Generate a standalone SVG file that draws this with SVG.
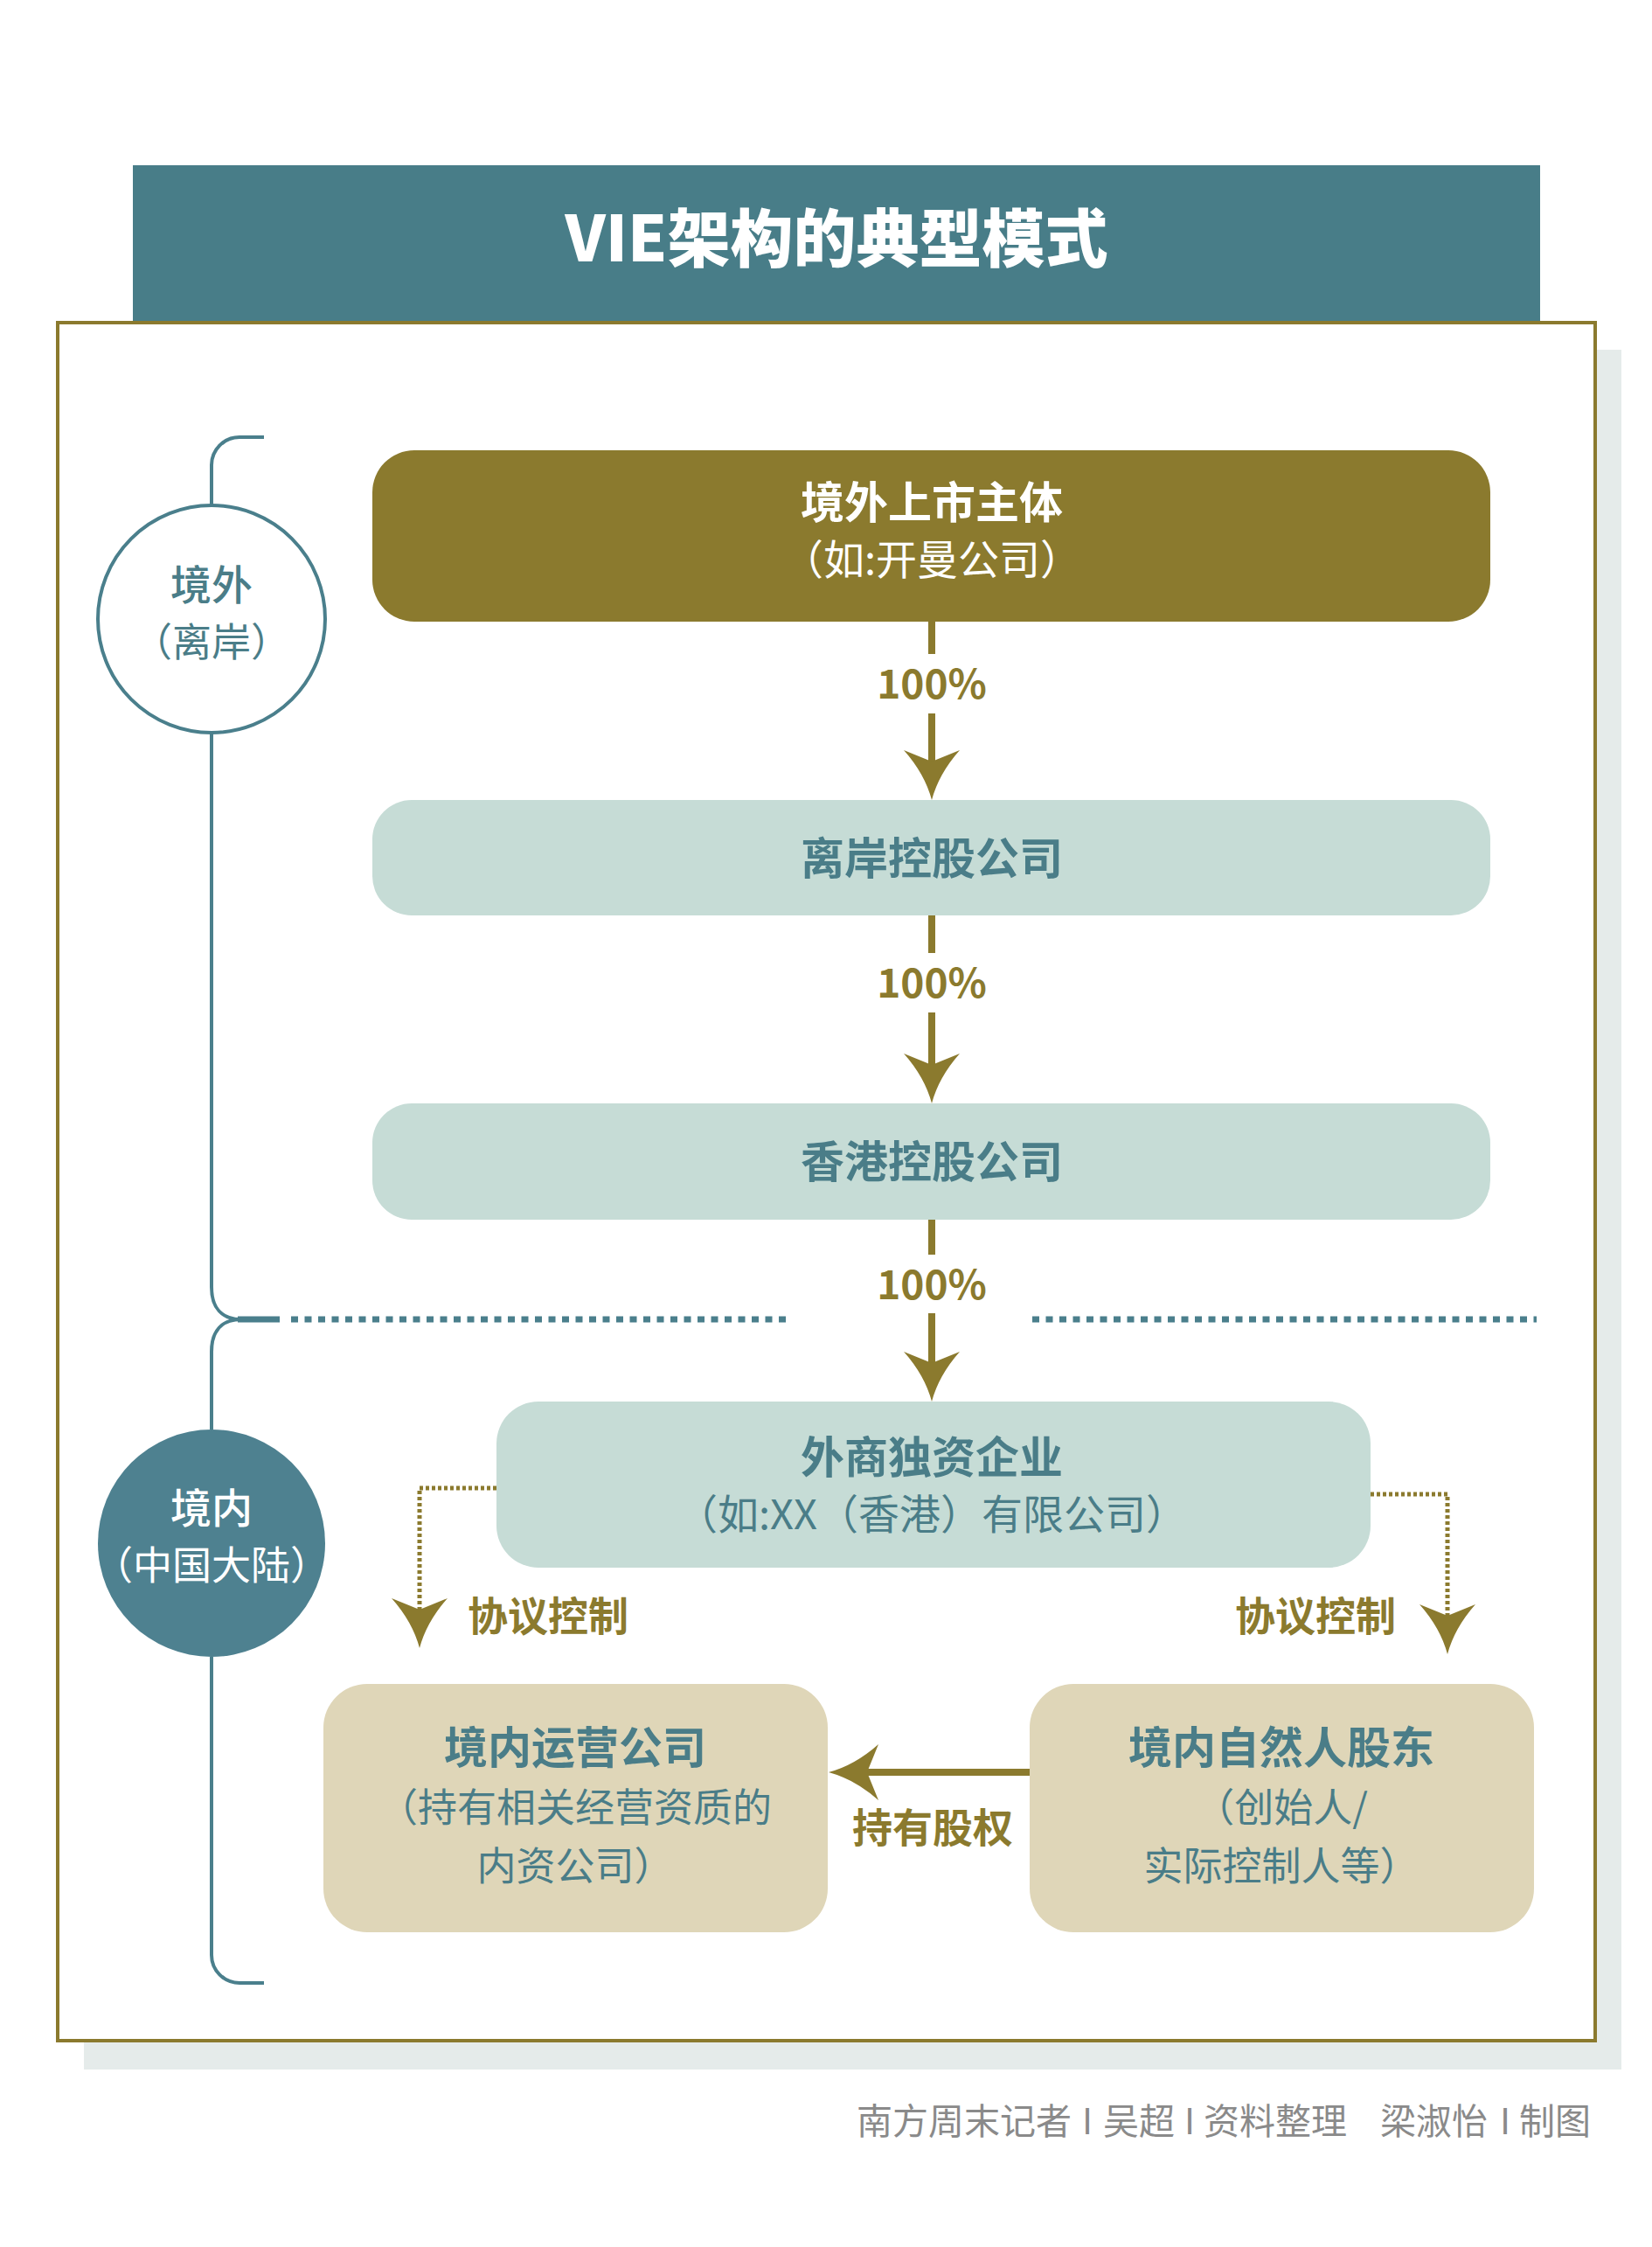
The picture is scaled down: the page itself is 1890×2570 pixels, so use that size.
<svg xmlns="http://www.w3.org/2000/svg" width="1890" height="2570" viewBox="0 0 1890 2570">
<style>
text{font-family:"Noto Sans CJK SC","Noto Sans",sans-serif;text-anchor:middle;dominant-baseline:central}
.t-title{font-size:72px;font-weight:900;fill:#ffffff}
.t-head{font-size:50px;font-weight:700}
.t-sub{font-size:47px;font-weight:400}
.t-sub2{font-size:45px;font-weight:400}
.t-circ{font-size:47px;font-weight:500}
.t-circs{font-size:45px;font-weight:400}
.t-lbl{font-size:46px;font-weight:700;fill:#8B7A2E}
.w{fill:#ffffff}
.tl{fill:#4A7D88}
.gold{fill:#8B7A2E}
.mint{fill:#C6DCD6}
.beige{fill:#DFD6B8}
.conn{fill:none;stroke:#8B7A2E;stroke-width:8}
.dot{fill:none;stroke:#8B7A2E;stroke-width:5;stroke-dasharray:4 3}
.brk{fill:none;stroke:#4A7F8C;stroke-width:4}
.sep{fill:none;stroke:#4A7F8C;stroke-width:7;stroke-dasharray:8 7.5}
.foot{font-size:41px;font-weight:400;fill:#8a8a8a;text-anchor:start}
</style>
<defs>
<marker id="ah" viewBox="-60 -36 62 72" refX="-42" refY="0" markerWidth="62" markerHeight="72" markerUnits="userSpaceOnUse" orient="auto">
<path d="M0,0 Q-30,-8 -57,-32 L-44,0 L-57,32 Q-30,8 0,0 Z" fill="#8B7A2E"/>
</marker>
</defs>

<!-- background frame -->
<rect x="0" y="0" width="1890" height="2570" fill="#ffffff"/>
<rect x="96" y="400" width="1759" height="1967" fill="#E5EBEA"/>
<rect x="152" y="189" width="1610" height="180" fill="#487D88"/>
<rect x="66" y="369" width="1759" height="1965" fill="#ffffff" stroke="#8B7A2E" stroke-width="4"/>
<text class="t-title" x="957" y="267">VIE架构的典型模式</text>

<!-- bracket and separators -->
<g id="bracket">
<path class="brk" d="M302,500 L274,500 A32,32 0 0 0 242,532 L242,578"/>
<path class="brk" d="M242,838 L242,1472 C242,1496 254,1509 276,1509"/>
<path class="brk" d="M276,1509 C254,1509 242,1522 242,1546 L242,1635"/>
<path class="brk" d="M242,1895 L242,2236 A32,32 0 0 0 274,2268 L302,2268"/>
<line x1="272" y1="1509" x2="320" y2="1509" stroke="#4A7F8C" stroke-width="7"/>
<line class="sep" x1="333" y1="1509" x2="906" y2="1509"/>
<line class="sep" x1="1181" y1="1509" x2="1758" y2="1509"/>
</g>

<g id="region-offshore">
<circle cx="242" cy="708" r="130" fill="#ffffff" stroke="#4A7F8C" stroke-width="4"/>
<text class="t-circ tl" x="242" y="665">境外</text>
<text class="t-circs tl" x="242" y="731">（离岸）</text>
</g>

<g id="region-onshore">
<circle cx="242" cy="1765" r="130" fill="#4E8190"/>
<text class="t-circ w" x="242" y="1721">境内</text>
<text class="t-circs w" x="242" y="1787">（中国大陆）</text>
</g>

<!-- connectors -->
<g id="connectors">
<line class="conn" x1="1066" y1="711" x2="1066" y2="748"/>
<line class="conn" x1="1066" y1="816" x2="1066" y2="873" marker-end="url(#ah)"/>
<text class="t-lbl" x="1066" y="779">100%</text>

<line class="conn" x1="1066" y1="1047" x2="1066" y2="1090"/>
<line class="conn" x1="1066" y1="1158" x2="1066" y2="1220" marker-end="url(#ah)"/>
<text class="t-lbl" x="1066" y="1121">100%</text>

<line class="conn" x1="1066" y1="1395" x2="1066" y2="1435"/>
<line class="conn" x1="1066" y1="1502" x2="1066" y2="1561" marker-end="url(#ah)"/>
<text class="t-lbl" x="1066" y="1466">100%</text>

<path class="dot" d="M568,1702 H480 V1843" marker-end="url(#ah)"/>
<text class="t-lbl" x="627" y="1845">协议控制</text>
<path class="dot" d="M1568,1709 H1656 V1850" marker-end="url(#ah)"/>
<text class="t-lbl" x="1505" y="1845">协议控制</text>

<line class="conn" x1="1178" y1="2027" x2="990" y2="2027" marker-end="url(#ah)"/>
<text class="t-lbl" x="1067" y="2087">持有股权</text>
</g>

<!-- nodes -->
<g id="listed-entity">
<rect class="gold" x="426" y="515" width="1279" height="196" rx="48"/>
<text class="t-head w" x="1066" y="571">境外上市主体</text>
<text class="t-sub w" x="1066" y="636">（如:开曼公司）</text>
</g>

<g id="offshore-holding">
<rect class="mint" x="426" y="915" width="1279" height="132" rx="45"/>
<text class="t-head tl" x="1066" y="978">离岸控股公司</text>
</g>

<g id="hk-holding">
<rect class="mint" x="426" y="1262" width="1279" height="133" rx="45"/>
<text class="t-head tl" x="1066" y="1325">香港控股公司</text>
</g>

<g id="wfoe">
<rect class="mint" x="568" y="1603" width="1000" height="190" rx="48"/>
<text class="t-head tl" x="1066" y="1663">外商独资企业</text>
<text class="t-sub tl" x="1066" y="1728">（如:XX（香港）有限公司）</text>
</g>

<g id="domestic-operating">
<rect class="beige" x="370" y="1926" width="577" height="284" rx="50"/>
<text class="t-head tl" x="658" y="1995">境内运营公司</text>
<text class="t-sub2 tl" x="658" y="2064">（持有相关经营资质的</text>
<text class="t-sub2 tl" x="658" y="2131">内资公司）</text>
</g>

<g id="domestic-shareholders">
<rect class="beige" x="1178" y="1926" width="577" height="284" rx="50"/>
<text class="t-head tl" x="1466" y="1995">境内自然人股东</text>
<text class="t-sub2 tl" x="1466" y="2064">（创始人/</text>
<text class="t-sub2 tl" x="1466" y="2131">实际控制人等）</text>
</g>

<text class="foot" y="2423"><tspan x="980">南方周末记者</tspan><tspan x="1238">I</tspan><tspan x="1262">吴超</tspan><tspan x="1355">I</tspan><tspan x="1377">资料整理</tspan><tspan x="1579">梁淑怡</tspan><tspan x="1716">I</tspan><tspan x="1738">制图</tspan></text>
</svg>
